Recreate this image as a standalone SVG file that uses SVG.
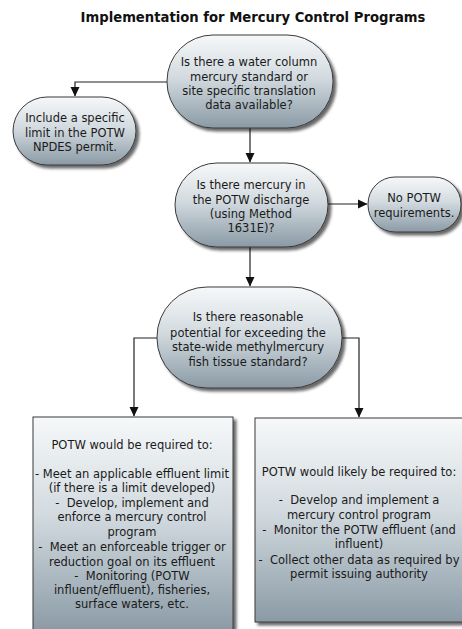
<svg xmlns="http://www.w3.org/2000/svg" width="462" height="629" viewBox="0 0 462 629">
<defs>
<linearGradient id="g" x1="0" y1="0" x2="0" y2="1">
<stop offset="0" stop-color="#f6f8f9"/>
<stop offset="0.45" stop-color="#d3dbe0"/>
<stop offset="1" stop-color="#8a9aa5"/>
</linearGradient>
<filter id="sh" x="-10%" y="-10%" width="130%" height="130%">
<feGaussianBlur in="SourceAlpha" stdDeviation="1.5"/>
<feOffset dx="3" dy="3" result="b"/>
<feComponentTransfer><feFuncA type="linear" slope="0.6"/></feComponentTransfer>
<feMerge><feMergeNode/><feMergeNode in="SourceGraphic"/></feMerge>
</filter>
<marker id="arr" markerWidth="10" markerHeight="10" refX="9" refY="5" orient="auto" markerUnits="userSpaceOnUse">
<path d="M0,0.5 L9.5,5 L0,9.5 Z" fill="#111"/>
</marker>
</defs>
<style>
.n{fill:url(#g);stroke:#3a3a3a;stroke-width:1;filter:url(#sh)}
.t{font-family:"DejaVu Sans",Verdana,sans-serif;font-size:11.5px;fill:#1a1a1a;text-anchor:middle}
.c{fill:none;stroke:#222;stroke-width:1.2}
</style>
<rect width="462" height="629" fill="#fff"/>
<text x="253" y="22" style="font-family:'DejaVu Sans',Verdana,sans-serif;font-size:13.2px;font-weight:bold;fill:#111;text-anchor:middle">Implementation for Mercury Control Programs</text>
<g id="connectors">
<path class="c" d="M167,82 H75 V96" marker-end="url(#arr)"/>
<path class="c" d="M250,128 V162" marker-end="url(#arr)"/>
<path class="c" d="M328,204 H367" marker-end="url(#arr)"/>
<path class="c" d="M250,247 V286" marker-end="url(#arr)"/>
<path class="c" d="M157,338 H134 V416" marker-end="url(#arr)"/>
<path class="c" d="M342,338 H359 V417" marker-end="url(#arr)"/>
</g>
<g id="q1">
<rect class="n" x="167" y="35" width="166" height="93" rx="46" ry="46"/>
<text class="t" x="249" y="66">Is there a water column</text>
<text class="t" x="249" y="81">mercury standard or</text>
<text class="t" x="249" y="95">site specific translation</text>
<text class="t" x="249" y="109">data available?</text>
</g>
<g id="limit">
<rect class="n" x="13" y="97" width="123" height="68" rx="34" ry="34"/>
<text class="t" x="75" y="122">Include a specific</text>
<text class="t" x="75" y="137">limit in the POTW</text>
<text class="t" x="75" y="151">NPDES permit.</text>
</g>
<g id="q2">
<rect class="n" x="175" y="163" width="153" height="84" rx="42" ry="42"/>
<text class="t" x="251" y="189">Is there mercury in</text>
<text class="t" x="251" y="204">the POTW discharge</text>
<text class="t" x="251" y="218">(using Method</text>
<text class="t" x="251" y="232">1631E)?</text>
</g>
<g id="none">
<rect class="n" x="368" y="177" width="93" height="55" rx="27" ry="27"/>
<text class="t" x="414" y="202">No POTW</text>
<text class="t" x="414" y="217">requirements.</text>
</g>
<g id="q3">
<rect class="n" x="157" y="287" width="185" height="101" rx="50" ry="50"/>
<text class="t" x="248" y="321">Is there reasonable</text>
<text class="t" x="248" y="337">potential for exceeding the</text>
<text class="t" x="248" y="351">state-wide methylmercury</text>
<text class="t" x="248" y="366">fish tissue standard?</text>
</g>
<g id="required">
<rect class="n" x="33" y="417" width="200" height="215"/>
<text class="t" x="132" y="449">POTW would be required to:</text>
<text class="t" x="132" y="478">- Meet an applicable effluent limit</text>
<text class="t" x="132" y="492">(if there is a limit developed)</text>
<text class="t" x="132" y="507" xml:space="preserve">-  Develop, implement and</text>
<text class="t" x="132" y="521">enforce a mercury control</text>
<text class="t" x="132" y="536">program</text>
<text class="t" x="132" y="551" xml:space="preserve">-  Meet an enforceable trigger or</text>
<text class="t" x="132" y="566">reduction goal on its effluent</text>
<text class="t" x="132" y="580" xml:space="preserve">-  Monitoring (POTW</text>
<text class="t" x="132" y="594">influent/effluent), fisheries,</text>
<text class="t" x="132" y="608">surface waters, etc.</text>
</g>
<g id="likely">
<rect class="n" x="255" y="418" width="210" height="204"/>
<text class="t" x="359" y="476">POTW would likely be required to:</text>
<text class="t" x="359" y="504" xml:space="preserve">-  Develop and implement a</text>
<text class="t" x="359" y="519">mercury control program</text>
<text class="t" x="359" y="534" xml:space="preserve">-  Monitor the POTW effluent (and</text>
<text class="t" x="359" y="548">influent)</text>
<text class="t" x="359" y="564" xml:space="preserve">-  Collect other data as required by</text>
<text class="t" x="359" y="578">permit issuing authority</text>
</g>
</svg>
